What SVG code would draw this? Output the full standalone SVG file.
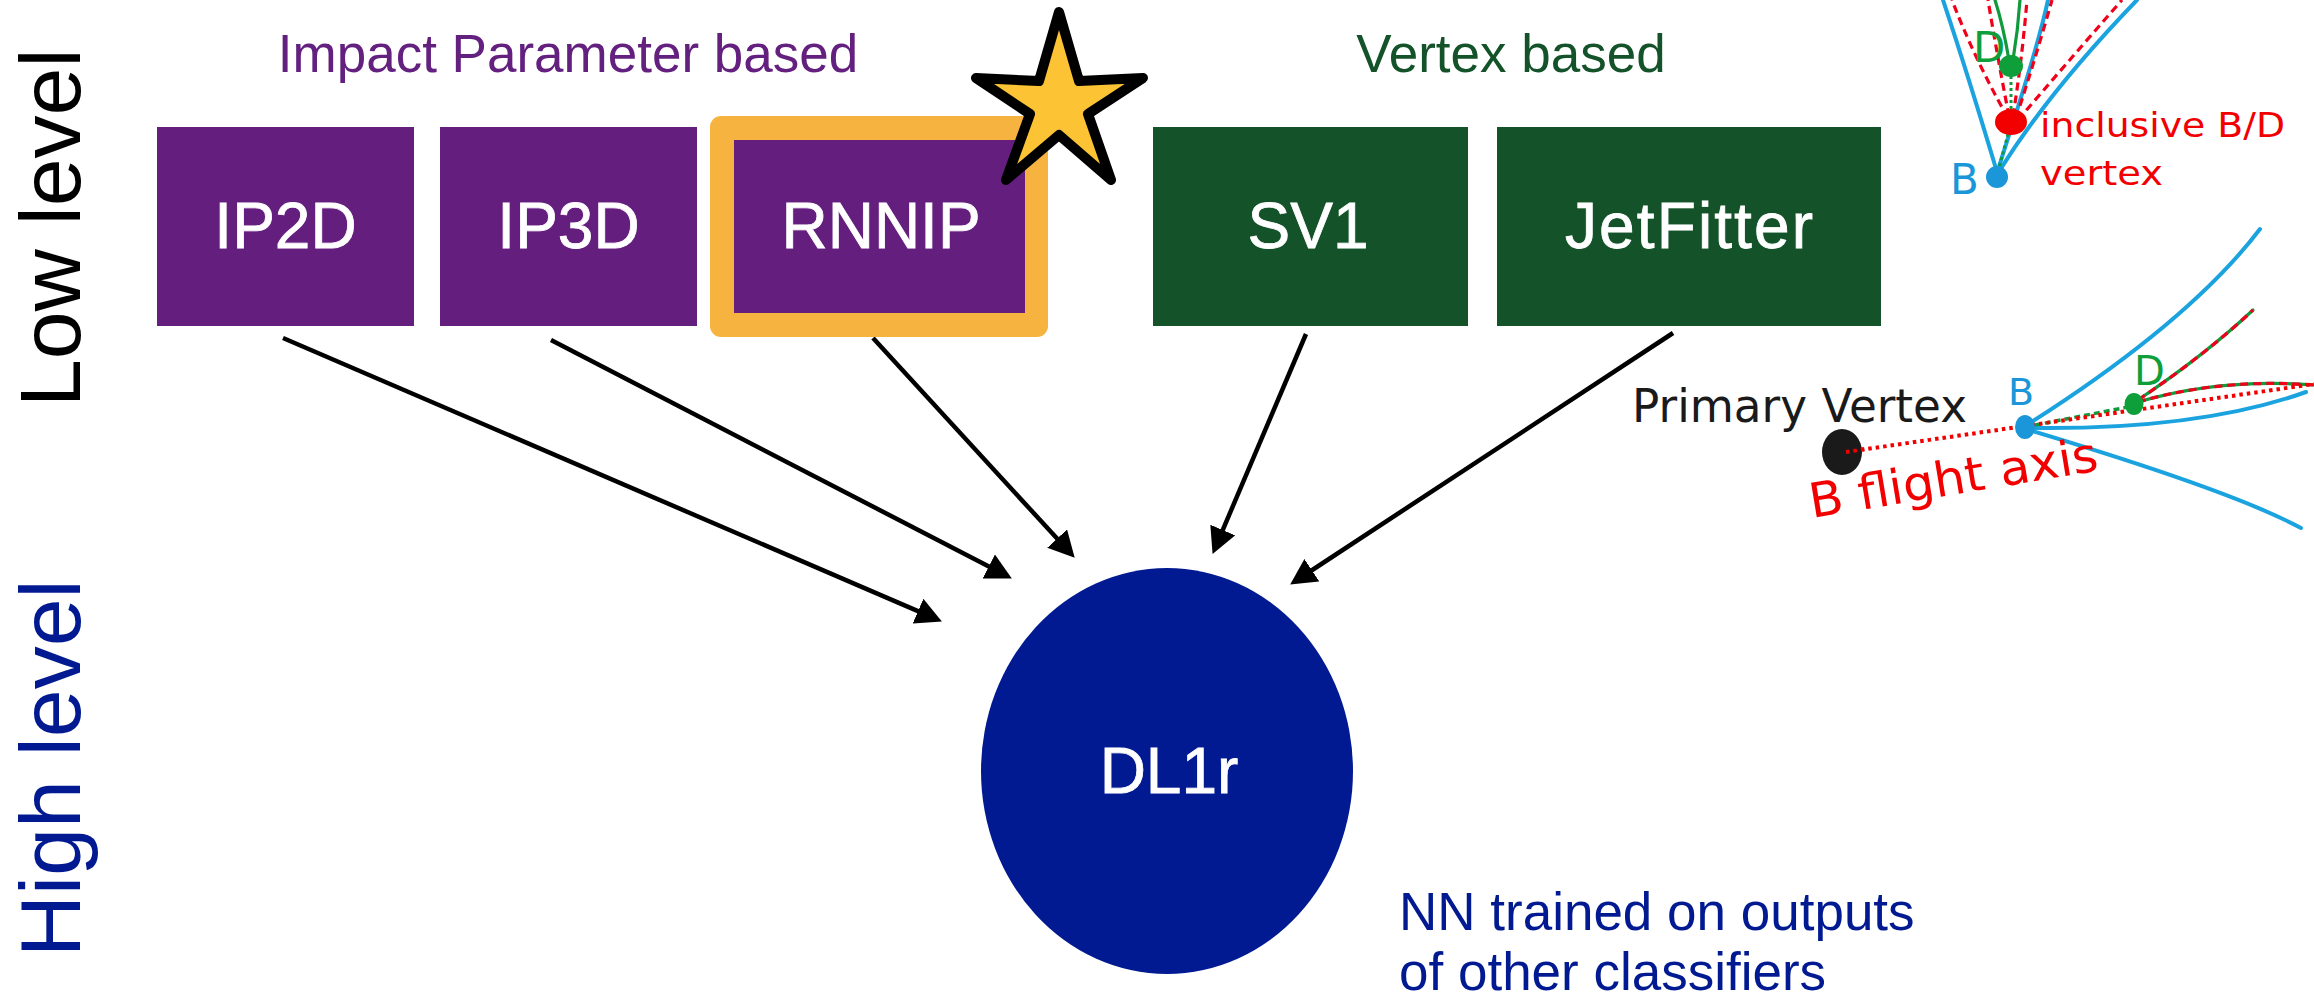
<svg xmlns="http://www.w3.org/2000/svg" width="2314" height="997" viewBox="0 0 2314 997">
  <defs>
    <style>
      .sans { font-family: "Liberation Sans", Arial, sans-serif; }
      .hand { font-family: "DejaVu Sans", sans-serif; }
      .ip { fill: #641E7E; }
      .vx { fill: #14522A; }
      .node-label { font-size: 64px; fill: #ffffff; stroke: #ffffff; stroke-width: 0.8; text-anchor: middle; }
      .conn { stroke: #000000; stroke-width: 4.5; fill: none; marker-end: url(#head); }
      .trk-b { stroke: #1BA3DF; stroke-width: 4; fill: none; stroke-linecap: round; }
      .trk-r { stroke: #F0001A; stroke-width: 3.2; fill: none; stroke-dasharray: 8 5; }
      .trk-g { stroke: #109A3C; stroke-width: 3.2; fill: none; stroke-linecap: round; }
      .trk-gd { stroke: #109A3C; stroke-width: 3; fill: none; stroke-dasharray: 3 3; }
    </style>
    <marker id="head" markerUnits="userSpaceOnUse" markerWidth="26" markerHeight="27" refX="5" refY="13.5" orient="auto">
      <path d="M0,0 L26,13.5 L0,27 Z" fill="#000000"/>
    </marker>
  </defs>

  <rect width="2314" height="997" fill="#ffffff"/>

  <!-- level labels on the left -->
  <g id="label-low-level">
    <text class="sans" font-size="86" fill="#000000" transform="translate(80,407) rotate(-90)">Low level</text>
  </g>
  <g id="label-high-level">
    <text class="sans" font-size="86" fill="#021A91" transform="translate(80,957) rotate(-90)">High level</text>
  </g>

  <!-- group headings -->
  <g id="heading-impact-parameter">
    <text class="sans" x="568" y="72" font-size="53" fill="#63207F" text-anchor="middle">Impact Parameter based</text>
  </g>
  <g id="heading-vertex">
    <text class="sans" x="1511" y="72" font-size="53" fill="#14522A" text-anchor="middle">Vertex based</text>
  </g>

  <!-- connectors: each low-level tagger feeds DL1r -->
  <g id="connectors">
    <path class="conn" d="M283,338 L922.6,613.1"/>
    <path class="conn" d="M551,340 L993.2,568.8"/>
    <path class="conn" d="M873,338 L1060.5,542.3"/>
    <path class="conn" d="M1306,334 L1220.8,534.6"/>
    <path class="conn" d="M1673,333 L1307.7,573"/>
  </g>

  <!-- low-level taggers -->
  <g id="node-ip2d">
    <rect class="ip" x="157" y="127" width="257" height="199"/>
    <text class="sans node-label" x="285.5" y="248">IP2D</text>
  </g>
  <g id="node-ip3d">
    <rect class="ip" x="440" y="127" width="257" height="199"/>
    <text class="sans node-label" x="568.5" y="248">IP3D</text>
  </g>
  <g id="node-rnnip">
    <rect x="710" y="116" width="338" height="221" rx="11" fill="#F6B33F"/>
    <rect class="ip" x="734" y="140" width="291" height="173"/>
    <text class="sans node-label" x="881" y="248">RNNIP</text>
  </g>
  <g id="node-sv1">
    <rect class="vx" x="1153" y="127" width="315" height="199"/>
    <text class="sans node-label" x="1308" y="248">SV1</text>
  </g>
  <g id="node-jetfitter">
    <rect class="vx" x="1497" y="127" width="384" height="199"/>
    <text class="sans node-label" x="1689" y="248" textLength="248" lengthAdjust="spacing">JetFitter</text>
  </g>

  <!-- highlight star -->
  <g id="star">
    <polygon points="1059,12 1079,81 1143,78 1088,114 1111,180 1059,135 1006,180 1030,114 976,78 1039,81"
             fill="#FCC334" stroke="#000000" stroke-width="10" stroke-linejoin="round"/>
  </g>

  <!-- high-level tagger -->
  <g id="node-dl1r">
    <ellipse cx="1167" cy="771" rx="186" ry="203" fill="#021A91"/>
    <text class="sans node-label" x="1169" y="793">DL1r</text>
  </g>

  <g id="note-dl1r">
    <text class="sans" font-size="53" fill="#021A91">
      <tspan x="1399" y="930">NN trained on outputs</tspan>
      <tspan x="1399" y="990">of other classifiers</tspan>
    </text>
  </g>

  <!-- sketch: inclusive B/D vertex seen along the jet -->
  <g id="sketch-inclusive-vertex">
    <path class="trk-b" d="M1997,172 Q1968,75 1943,0"/>
    <path class="trk-b" d="M1998,170 C2010,130 2035,60 2048,0"/>
    <path class="trk-b" d="M2000,170 Q2050,90 2137,0"/>
    <path class="trk-r" d="M2008,118 Q1975,60 1952,0"/>
    <path class="trk-r" d="M2009,116 Q1998,60 1988,0"/>
    <path class="trk-r" d="M2013,116 Q2022,60 2027,0"/>
    <path class="trk-r" d="M2016,118 Q2035,60 2052,0"/>
    <path class="trk-r" d="M2018,120 Q2065,65 2122,0"/>
    <path class="trk-g" d="M2009,60 Q2003,25 1995,0"/>
    <path class="trk-g" d="M2013,60 Q2018,30 2020,0"/>
    <path class="trk-gd" d="M2011,76 L2011,112"/>
    <path class="trk-gd" d="M2008,134 L1999,168"/>
    <ellipse cx="1997" cy="177" rx="11" ry="11" fill="#1B96D8"/>
    <ellipse cx="2011" cy="122" rx="16" ry="13" fill="#F20000"/>
    <ellipse cx="2011" cy="66" rx="12" ry="11" fill="#0E9E3A"/>
    <text class="hand" x="1950" y="194" font-size="42" fill="#1B96D8">B</text>
    <text class="hand" x="1973" y="62" font-size="42" fill="#0E9E3A">D</text>
    <text class="hand" x="2040" y="137" font-size="34" fill="#F20000" textLength="245" lengthAdjust="spacingAndGlyphs">inclusive B/D</text>
    <text class="hand" x="2040" y="185" font-size="34" fill="#F20000" textLength="123" lengthAdjust="spacingAndGlyphs">vertex</text>
  </g>

  <!-- sketch: primary vertex, B and D decay vertices on the flight axis -->
  <g id="sketch-flight-axis">
    <path class="trk-b" d="M2030,423 Q2190,321 2260,229"/>
    <path class="trk-b" d="M2032,428 Q2200,430 2306,392"/>
    <path class="trk-b" d="M2032,431 Q2232,491 2301,528"/>
    <path class="trk-g" d="M2138,400 Q2205,355 2253,310"/>
    <path class="trk-r" d="M2138,400 Q2205,355 2253,310" stroke-dasharray="6 5"/>
    <path class="trk-g" d="M2138,402 Q2220,378 2314,385"/>
    <path class="trk-r" d="M2138,402 Q2220,378 2314,385" stroke-dasharray="6 5"/>
    <path d="M2035,425 L2128,407" stroke="#109A3C" stroke-width="3.5" stroke-dasharray="6 4" fill="none"/>
    <path d="M1846,452 L2314,384" stroke="#F20000" stroke-width="4" stroke-dasharray="3.5 4" fill="none"/>
    <ellipse cx="1842" cy="452" rx="20" ry="23" fill="#1A1A1A"/>
    <path d="M1846,452 L1866,449" stroke="#F20000" stroke-width="4" stroke-dasharray="3.5 4" fill="none"/>
    <ellipse cx="2025" cy="427" rx="10" ry="12" fill="#1B96D8"/>
    <ellipse cx="2134" cy="404" rx="9.5" ry="11" fill="#0E9E3A"/>
    <text class="hand" x="1632" y="422" font-size="46" fill="#1A1A1A" textLength="335" lengthAdjust="spacingAndGlyphs">Primary Vertex</text>
    <text class="hand" x="2008" y="405" font-size="38" fill="#1B96D8">B</text>
    <text class="hand" x="2134" y="385" font-size="40" fill="#0E9E3A">D</text>
    <text class="hand" font-size="48" fill="#F20000" textLength="292" lengthAdjust="spacingAndGlyphs" transform="translate(1812,518) rotate(-9.4)">B flight axis</text>
  </g>
</svg>
